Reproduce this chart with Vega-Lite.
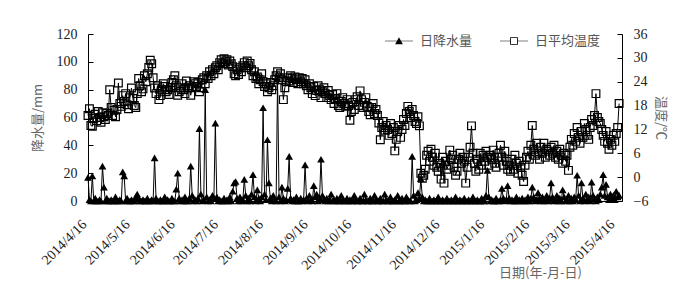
{
"$schema":"https://vega.github.io/schema/vega-lite/v6.json",
"width":534,"height":167,
"autosize":{"type":"none"},
"padding":{"left":88,"top":34,"right":78,"bottom":89},
"config":{"font":"Liberation Serif","view":{"stroke":null},"axis":{"grid":false,"domainColor":"#000","tickColor":"#000","labelColor":"#222","labelFont":"Liberation Serif, Times New Roman, serif","labelFontSize":14,"titleFont":"Noto Sans CJK SC","titleFontWeight":"normal","titleColor":"#666","titleFontSize":13}},
"data":{"values":[
{"d":"2014-04-16","t":15.5,"p":17},{"d":"2014-04-17","t":17.2,"p":1},{"d":"2014-04-18","t":13.0,"p":0},{"d":"2014-04-19","t":12.8,"p":18},{"d":"2014-04-20","t":14.8,"p":0},{"d":"2014-04-21","t":15.8,"p":2},{"d":"2014-04-22","t":14.2,"p":0},{"d":"2014-04-23","t":16.5,"p":0},{"d":"2014-04-24","t":15.0,"p":1},{"d":"2014-04-25","t":13.8,"p":0},{"d":"2014-04-26","t":16.2,"p":25},{"d":"2014-04-27","t":15.2,"p":10},{"d":"2014-04-28","t":14.5,"p":0},{"d":"2014-04-29","t":16.0,"p":2},{"d":"2014-04-30","t":15.5,"p":0},
{"d":"2014-05-01","t":22.0,"p":0},{"d":"2014-05-02","t":17.5,"p":1},{"d":"2014-05-03","t":15.5,"p":0},{"d":"2014-05-04","t":16.8,"p":0},{"d":"2014-05-05","t":15.2,"p":3},{"d":"2014-05-06","t":17.0,"p":0},{"d":"2014-05-07","t":23.7,"p":0},{"d":"2014-05-08","t":18.5,"p":1},{"d":"2014-05-09","t":17.8,"p":0},{"d":"2014-05-10","t":20.5,"p":21},{"d":"2014-05-11","t":19.0,"p":18},{"d":"2014-05-12","t":21.0,"p":0},{"d":"2014-05-13","t":18.2,"p":2},{"d":"2014-05-14","t":17.2,"p":0},{"d":"2014-05-15","t":20.0,"p":0},{"d":"2014-05-16","t":22.4,"p":1},{"d":"2014-05-17","t":19.8,"p":0},{"d":"2014-05-18","t":18.0,"p":0},{"d":"2014-05-19","t":17.5,"p":3},{"d":"2014-05-20","t":21.0,"p":5},{"d":"2014-05-21","t":24.8,"p":2},{"d":"2014-05-22","t":23.0,"p":0},{"d":"2014-05-23","t":21.5,"p":0},{"d":"2014-05-24","t":22.2,"p":1},{"d":"2014-05-25","t":25.5,"p":0},{"d":"2014-05-26","t":24.0,"p":0},{"d":"2014-05-27","t":26.0,"p":2},{"d":"2014-05-28","t":27.6,"p":0},{"d":"2014-05-29","t":29.4,"p":0},{"d":"2014-05-30","t":28.5,"p":1},{"d":"2014-05-31","t":25.0,"p":0},
{"d":"2014-06-01","t":22.4,"p":31},{"d":"2014-06-02","t":21.0,"p":2},{"d":"2014-06-03","t":23.0,"p":0},{"d":"2014-06-04","t":19.5,"p":0},{"d":"2014-06-05","t":20.5,"p":1},{"d":"2014-06-06","t":22.0,"p":0},{"d":"2014-06-07","t":23.5,"p":0},{"d":"2014-06-08","t":22.8,"p":3},{"d":"2014-06-09","t":21.5,"p":0},{"d":"2014-06-10","t":22.0,"p":1},{"d":"2014-06-11","t":20.8,"p":0},{"d":"2014-06-12","t":22.5,"p":0},{"d":"2014-06-13","t":23.8,"p":2},{"d":"2014-06-14","t":24.5,"p":0},{"d":"2014-06-15","t":25.5,"p":0},{"d":"2014-06-16","t":23.0,"p":8.5},{"d":"2014-06-17","t":20.6,"p":20},{"d":"2014-06-18","t":21.5,"p":2},{"d":"2014-06-19","t":22.5,"p":0},{"d":"2014-06-20","t":23.5,"p":1},{"d":"2014-06-21","t":22.0,"p":0},{"d":"2014-06-22","t":21.0,"p":3},{"d":"2014-06-23","t":24.2,"p":0},{"d":"2014-06-24","t":22.5,"p":0},{"d":"2014-06-25","t":23.0,"p":2},{"d":"2014-06-26","t":20.6,"p":25},{"d":"2014-06-27","t":22.5,"p":4},{"d":"2014-06-28","t":24.0,"p":0},{"d":"2014-06-29","t":23.5,"p":1},{"d":"2014-06-30","t":22.8,"p":0},
{"d":"2014-07-01","t":23.8,"p":2},{"d":"2014-07-02","t":21.5,"p":52},{"d":"2014-07-03","t":22.5,"p":5},{"d":"2014-07-04","t":24.5,"p":0},{"d":"2014-07-05","t":25.0,"p":1},{"d":"2014-07-06","t":23.5,"p":80},{"d":"2014-07-07","t":25.5,"p":3},{"d":"2014-07-08","t":24.8,"p":0},{"d":"2014-07-09","t":26.5,"p":1},{"d":"2014-07-10","t":25.5,"p":0},{"d":"2014-07-11","t":27.0,"p":4},{"d":"2014-07-12","t":26.0,"p":2},{"d":"2014-07-13","t":27.5,"p":56},{"d":"2014-07-14","t":28.0,"p":3},{"d":"2014-07-15","t":27.0,"p":0},{"d":"2014-07-16","t":28.8,"p":1},{"d":"2014-07-17","t":29.5,"p":0},{"d":"2014-07-18","t":28.5,"p":0},{"d":"2014-07-19","t":29.8,"p":2},{"d":"2014-07-20","t":29.0,"p":0},{"d":"2014-07-21","t":29.5,"p":1},{"d":"2014-07-22","t":28.2,"p":0},{"d":"2014-07-23","t":29.2,"p":3},{"d":"2014-07-24","t":28.5,"p":0},{"d":"2014-07-25","t":27.8,"p":7},{"d":"2014-07-26","t":26.0,"p":13},{"d":"2014-07-27","t":25.5,"p":14},{"d":"2014-07-28","t":27.0,"p":2},{"d":"2014-07-29","t":25.8,"p":0},{"d":"2014-07-30","t":27.5,"p":3},{"d":"2014-07-31","t":26.5,"p":0},
{"d":"2014-08-01","t":28.0,"p":1},{"d":"2014-08-02","t":28.8,"p":15.5},{"d":"2014-08-03","t":27.5,"p":4},{"d":"2014-08-04","t":29.2,"p":0},{"d":"2014-08-05","t":28.0,"p":2},{"d":"2014-08-06","t":28.6,"p":0},{"d":"2014-08-07","t":27.0,"p":5},{"d":"2014-08-08","t":25.5,"p":19},{"d":"2014-08-09","t":26.5,"p":3},{"d":"2014-08-10","t":24.8,"p":0},{"d":"2014-08-11","t":25.2,"p":8},{"d":"2014-08-12","t":23.5,"p":2},{"d":"2014-08-13","t":24.5,"p":0},{"d":"2014-08-14","t":26.0,"p":3},{"d":"2014-08-15","t":24.0,"p":67},{"d":"2014-08-16","t":22.8,"p":5},{"d":"2014-08-17","t":23.5,"p":1},{"d":"2014-08-18","t":21.5,"p":44},{"d":"2014-08-19","t":22.5,"p":13},{"d":"2014-08-20","t":23.8,"p":2},{"d":"2014-08-21","t":22.0,"p":0},{"d":"2014-08-22","t":23.0,"p":4},{"d":"2014-08-23","t":24.5,"p":1},{"d":"2014-08-24","t":25.5,"p":0},{"d":"2014-08-25","t":26.5,"p":88},{"d":"2014-08-26","t":25.0,"p":3},{"d":"2014-08-27","t":26.0,"p":0},{"d":"2014-08-28","t":24.5,"p":10},{"d":"2014-08-29","t":19.5,"p":2},{"d":"2014-08-30","t":22.5,"p":0},{"d":"2014-08-31","t":24.0,"p":1},
{"d":"2014-09-01","t":25.0,"p":9},{"d":"2014-09-02","t":24.2,"p":32},{"d":"2014-09-03","t":25.5,"p":2},{"d":"2014-09-04","t":24.8,"p":0},{"d":"2014-09-05","t":23.8,"p":1},{"d":"2014-09-06","t":25.2,"p":0},{"d":"2014-09-07","t":24.5,"p":3},{"d":"2014-09-08","t":23.5,"p":0},{"d":"2014-09-09","t":25.0,"p":0},{"d":"2014-09-10","t":24.0,"p":2},{"d":"2014-09-11","t":24.8,"p":0},{"d":"2014-09-12","t":23.5,"p":1},{"d":"2014-09-13","t":24.5,"p":26},{"d":"2014-09-14","t":23.0,"p":2},{"d":"2014-09-15","t":22.0,"p":0},{"d":"2014-09-16","t":23.5,"p":4},{"d":"2014-09-17","t":22.5,"p":1},{"d":"2014-09-18","t":21.0,"p":0},{"d":"2014-09-19","t":22.8,"p":11},{"d":"2014-09-20","t":20.5,"p":3},{"d":"2014-09-21","t":21.8,"p":5},{"d":"2014-09-22","t":23.0,"p":0},{"d":"2014-09-23","t":22.0,"p":2},{"d":"2014-09-24","t":20.0,"p":30},{"d":"2014-09-25","t":21.5,"p":4},{"d":"2014-09-26","t":22.5,"p":1},{"d":"2014-09-27","t":21.0,"p":0},{"d":"2014-09-28","t":20.0,"p":2},{"d":"2014-09-29","t":21.8,"p":0},{"d":"2014-09-30","t":20.5,"p":1},
{"d":"2014-10-01","t":19.5,"p":5},{"d":"2014-10-02","t":20.8,"p":0},{"d":"2014-10-03","t":18.5,"p":1},{"d":"2014-10-04","t":19.8,"p":0},{"d":"2014-10-05","t":21.0,"p":2},{"d":"2014-10-06","t":18.0,"p":0},{"d":"2014-10-07","t":17.5,"p":0},{"d":"2014-10-08","t":19.0,"p":4},{"d":"2014-10-09","t":20.0,"p":1},{"d":"2014-10-10","t":18.5,"p":0},{"d":"2014-10-11","t":17.8,"p":0},{"d":"2014-10-12","t":19.5,"p":2},{"d":"2014-10-13","t":18.0,"p":0},{"d":"2014-10-14","t":14.3,"p":1},{"d":"2014-10-15","t":16.5,"p":0},{"d":"2014-10-16","t":18.8,"p":0},{"d":"2014-10-17","t":17.0,"p":4},{"d":"2014-10-18","t":19.5,"p":1},{"d":"2014-10-19","t":20.2,"p":0},{"d":"2014-10-20","t":18.0,"p":0},{"d":"2014-10-21","t":21.7,"p":2},{"d":"2014-10-22","t":19.5,"p":0},{"d":"2014-10-23","t":17.5,"p":0},{"d":"2014-10-24","t":18.8,"p":5},{"d":"2014-10-25","t":20.0,"p":1},{"d":"2014-10-26","t":17.8,"p":0},{"d":"2014-10-27","t":16.5,"p":0},{"d":"2014-10-28","t":15.7,"p":2},{"d":"2014-10-29","t":17.5,"p":0},{"d":"2014-10-30","t":18.5,"p":0},{"d":"2014-10-31","t":16.0,"p":4},
{"d":"2014-11-01","t":17.0,"p":1},{"d":"2014-11-02","t":15.5,"p":0},{"d":"2014-11-03","t":13.6,"p":0},{"d":"2014-11-04","t":9.4,"p":2},{"d":"2014-11-05","t":12.5,"p":0},{"d":"2014-11-06","t":14.0,"p":0},{"d":"2014-11-07","t":11.8,"p":5},{"d":"2014-11-08","t":13.0,"p":1},{"d":"2014-11-09","t":12.0,"p":0},{"d":"2014-11-10","t":10.5,"p":0},{"d":"2014-11-11","t":13.5,"p":3},{"d":"2014-11-12","t":11.0,"p":0},{"d":"2014-11-13","t":12.5,"p":0},{"d":"2014-11-14","t":6.6,"p":1},{"d":"2014-11-15","t":9.5,"p":0},{"d":"2014-11-16","t":11.5,"p":4},{"d":"2014-11-17","t":13.0,"p":0},{"d":"2014-11-18","t":10.0,"p":0},{"d":"2014-11-19","t":12.0,"p":2},{"d":"2014-11-20","t":14.5,"p":0},{"d":"2014-11-21","t":13.0,"p":0},{"d":"2014-11-22","t":16.0,"p":3},{"d":"2014-11-23","t":17.8,"p":1},{"d":"2014-11-24","t":16.5,"p":0},{"d":"2014-11-25","t":15.0,"p":0},{"d":"2014-11-26","t":17.0,"p":32},{"d":"2014-11-27","t":15.5,"p":4},{"d":"2014-11-28","t":14.0,"p":0},{"d":"2014-11-29","t":13.5,"p":1},{"d":"2014-11-30","t":15.2,"p":6},
{"d":"2014-12-01","t":12.9,"p":2},{"d":"2014-12-02","t":1.0,"p":16},{"d":"2014-12-03","t":-0.3,"p":3},{"d":"2014-12-04","t":0.5,"p":0},{"d":"2014-12-05","t":2.0,"p":1},{"d":"2014-12-06","t":5.5,"p":0},{"d":"2014-12-07","t":6.5,"p":0},{"d":"2014-12-08","t":4.0,"p":2},{"d":"2014-12-09","t":7.0,"p":0},{"d":"2014-12-10","t":5.0,"p":0},{"d":"2014-12-11","t":3.0,"p":1},{"d":"2014-12-12","t":6.0,"p":0},{"d":"2014-12-13","t":2.5,"p":0},{"d":"2014-12-14","t":1.5,"p":3},{"d":"2014-12-15","t":3.5,"p":0},{"d":"2014-12-16","t":-0.5,"p":0},{"d":"2014-12-17","t":5.0,"p":1},{"d":"2014-12-18","t":-1.5,"p":0},{"d":"2014-12-19","t":4.0,"p":0},{"d":"2014-12-20","t":2.0,"p":2},{"d":"2014-12-21","t":3.0,"p":0},{"d":"2014-12-22","t":6.8,"p":0},{"d":"2014-12-23","t":4.5,"p":1},{"d":"2014-12-24","t":5.5,"p":0},{"d":"2014-12-25","t":2.5,"p":0},{"d":"2014-12-26","t":0.5,"p":3},{"d":"2014-12-27","t":1.5,"p":0},{"d":"2014-12-28","t":4.5,"p":0},{"d":"2014-12-29","t":6.0,"p":1},{"d":"2014-12-30","t":3.5,"p":0},{"d":"2014-12-31","t":5.0,"p":0},
{"d":"2015-01-01","t":4.0,"p":2},{"d":"2015-01-02","t":-1.5,"p":0},{"d":"2015-01-03","t":2.5,"p":0},{"d":"2015-01-04","t":5.0,"p":1},{"d":"2015-01-05","t":7.5,"p":0},{"d":"2015-01-06","t":12.9,"p":0},{"d":"2015-01-07","t":6.0,"p":3},{"d":"2015-01-08","t":3.5,"p":0},{"d":"2015-01-09","t":1.5,"p":0},{"d":"2015-01-10","t":4.5,"p":1},{"d":"2015-01-11","t":2.0,"p":0},{"d":"2015-01-12","t":6.0,"p":0},{"d":"2015-01-13","t":3.0,"p":2},{"d":"2015-01-14","t":5.5,"p":0},{"d":"2015-01-15","t":4.0,"p":0},{"d":"2015-01-16","t":6.5,"p":4},{"d":"2015-01-17","t":5.0,"p":22},{"d":"2015-01-18","t":3.0,"p":3},{"d":"2015-01-19","t":5.5,"p":0},{"d":"2015-01-20","t":4.5,"p":1},{"d":"2015-01-21","t":6.8,"p":0},{"d":"2015-01-22","t":3.5,"p":0},{"d":"2015-01-23","t":2.5,"p":2},{"d":"2015-01-24","t":5.0,"p":0},{"d":"2015-01-25","t":6.0,"p":0},{"d":"2015-01-26","t":8.0,"p":1},{"d":"2015-01-27","t":5.0,"p":9},{"d":"2015-01-28","t":3.0,"p":2},{"d":"2015-01-29","t":6.5,"p":0},{"d":"2015-01-30","t":4.0,"p":1},{"d":"2015-01-31","t":2.0,"p":11},
{"d":"2015-02-01","t":3.0,"p":2},{"d":"2015-02-02","t":1.5,"p":0},{"d":"2015-02-03","t":4.5,"p":1},{"d":"2015-02-04","t":2.0,"p":0},{"d":"2015-02-05","t":5.5,"p":0},{"d":"2015-02-06","t":3.5,"p":3},{"d":"2015-02-07","t":1.0,"p":0},{"d":"2015-02-08","t":4.0,"p":1},{"d":"2015-02-09","t":2.5,"p":0},{"d":"2015-02-10","t":0.5,"p":2},{"d":"2015-02-11","t":-1.1,"p":0},{"d":"2015-02-12","t":3.0,"p":1},{"d":"2015-02-13","t":5.0,"p":0},{"d":"2015-02-14","t":6.5,"p":3},{"d":"2015-02-15","t":4.5,"p":0},{"d":"2015-02-16","t":8.0,"p":2},{"d":"2015-02-17","t":13.0,"p":10},{"d":"2015-02-18","t":7.0,"p":3},{"d":"2015-02-19","t":5.5,"p":0},{"d":"2015-02-20","t":8.5,"p":1},{"d":"2015-02-21","t":6.0,"p":6},{"d":"2015-02-22","t":4.5,"p":2},{"d":"2015-02-23","t":7.5,"p":0},{"d":"2015-02-24","t":6.0,"p":3},{"d":"2015-02-25","t":8.5,"p":0},{"d":"2015-02-26","t":5.0,"p":1},{"d":"2015-02-27","t":7.0,"p":4},{"d":"2015-02-28","t":6.5,"p":0},
{"d":"2015-03-01","t":5.5,"p":2},{"d":"2015-03-02","t":7.5,"p":13},{"d":"2015-03-03","t":6.0,"p":3},{"d":"2015-03-04","t":8.0,"p":0},{"d":"2015-03-05","t":5.0,"p":1},{"d":"2015-03-06","t":6.5,"p":4},{"d":"2015-03-07","t":4.5,"p":0},{"d":"2015-03-08","t":7.0,"p":2},{"d":"2015-03-09","t":5.5,"p":0},{"d":"2015-03-10","t":3.5,"p":8},{"d":"2015-03-11","t":6.0,"p":3},{"d":"2015-03-12","t":4.0,"p":0},{"d":"2015-03-13","t":5.5,"p":1},{"d":"2015-03-14","t":1.7,"p":4},{"d":"2015-03-15","t":7.5,"p":0},{"d":"2015-03-16","t":9.5,"p":2},{"d":"2015-03-17","t":8.0,"p":0},{"d":"2015-03-18","t":11.0,"p":3},{"d":"2015-03-19","t":9.0,"p":1},{"d":"2015-03-20","t":12.5,"p":18.5},{"d":"2015-03-21","t":10.0,"p":4},{"d":"2015-03-22","t":8.5,"p":0},{"d":"2015-03-23","t":11.5,"p":13},{"d":"2015-03-24","t":10.0,"p":2},{"d":"2015-03-25","t":13.5,"p":0},{"d":"2015-03-26","t":12.0,"p":5},{"d":"2015-03-27","t":10.5,"p":1},{"d":"2015-03-28","t":9.5,"p":3},{"d":"2015-03-29","t":12.5,"p":0},{"d":"2015-03-30","t":14.5,"p":13.5},{"d":"2015-03-31","t":13.0,"p":4},
{"d":"2015-04-01","t":15.5,"p":2},{"d":"2015-04-02","t":21.0,"p":0},{"d":"2015-04-03","t":15.0,"p":3},{"d":"2015-04-04","t":14.0,"p":1},{"d":"2015-04-05","t":13.5,"p":5},{"d":"2015-04-06","t":12.0,"p":10},{"d":"2015-04-07","t":10.5,"p":19},{"d":"2015-04-08","t":9.0,"p":4},{"d":"2015-04-09","t":11.5,"p":12},{"d":"2015-04-10","t":8.5,"p":3},{"d":"2015-04-11","t":7.0,"p":1},{"d":"2015-04-12","t":9.5,"p":5},{"d":"2015-04-13","t":8.0,"p":2},{"d":"2015-04-14","t":10.5,"p":4},{"d":"2015-04-15","t":9.0,"p":1},{"d":"2015-04-16","t":11.0,"p":7},{"d":"2015-04-17","t":12.5,"p":3},{"d":"2015-04-18","t":18.5,"p":4}
],"format":{"parse":{"d":"date:'%Y-%m-%d'"}}},
"layer":[
{"encoding":{
  "x":{"field":"d","type":"temporal","scale":{"domain":[{"year":2014,"month":4,"date":16},{"year":2015,"month":4,"date":20}]},
    "axis":{"values":[{"year":2014,"month":4,"date":16},{"year":2014,"month":5,"date":16},{"year":2014,"month":6,"date":16},{"year":2014,"month":7,"date":16},{"year":2014,"month":8,"date":16},{"year":2014,"month":9,"date":16},{"year":2014,"month":10,"date":16},{"year":2014,"month":11,"date":16},{"year":2014,"month":12,"date":16},{"year":2015,"month":1,"date":16},{"year":2015,"month":2,"date":16},{"year":2015,"month":3,"date":16},{"year":2015,"month":4,"date":16}],
      "format":"%Y/%-m/%-d","labelAngle":-45,"labelAlign":"right","labelBaseline":"middle","ticks":false,"labelPadding":21,"labelOffset":-4,"labelFontSize":14,"labelOverlap":false,
      "title":"日期(年-月-日)","titleX":452,"titleY":71,"titleAlign":"center","titleBaseline":"middle","titleAnchor":null}},
  "y":{"field":"p","type":"quantitative","scale":{"domain":[0,120],"nice":false},
    "axis":{"orient":"left","values":[0,20,40,60,80,100,120],"tickSize":-5,"labelPadding":16,"title":"降水量/mm","titlePadding":12}}},
 "layer":[
  {"mark":{"type":"line","color":"#000","strokeWidth":1}},
  {"mark":{"type":"point","shape":"triangle-up","filled":true,"color":"#000","size":60,"opacity":1}}
 ]},
{"encoding":{
  "x":{"field":"d","type":"temporal"},
  "y":{"field":"t","type":"quantitative","scale":{"domain":[-6,36],"nice":false},
    "axis":{"orient":"right","values":[-6,0,6,12,18,24,30,36],"tickSize":-5,"labelPadding":16,"title":"温度/℃","titlePadding":6}}},
 "layer":[
  {"mark":{"type":"line","color":"#000","strokeWidth":1}},
  {"mark":{"type":"point","shape":"square","filled":false,"color":"#000","strokeWidth":1.2,"size":60,"opacity":1}}
 ]},
{"data":{"values":[{"s":"日降水量"},{"s":"日平均温度"}]},
 "mark":{"type":"point","filled":true,"fill":"#000","stroke":"#000","strokeWidth":1,"opacity":0},
 "encoding":{"shape":{"field":"s","type":"nominal",
   "scale":{"domain":["日降水量","日平均温度"],"range":["M-2,-0.05H2V0.05H-2ZM0,-0.55L0.55,0.45H-0.55Z","M-2,-0.05H-0.55V0.05H-2ZM0.55,-0.05H2V0.05H0.55ZM-0.55,-0.55H0.55V0.55H-0.55ZM-0.43,-0.43V0.43H0.43V-0.43Z"]},
   "legend":{"title":null,"orient":"none","legendX":304,"legendY":0,"direction":"horizontal","symbolSize":196,"symbolOpacity":1,"symbolFillColor":"#000","symbolStrokeColor":"#000","symbolStrokeWidth":0,"labelOffset":14,"columnPadding":27,"labelFont":"Noto Sans CJK SC","labelFontSize":13,"labelColor":"#555"}}}}
],
"resolve":{"scale":{"y":"independent"}}
}
